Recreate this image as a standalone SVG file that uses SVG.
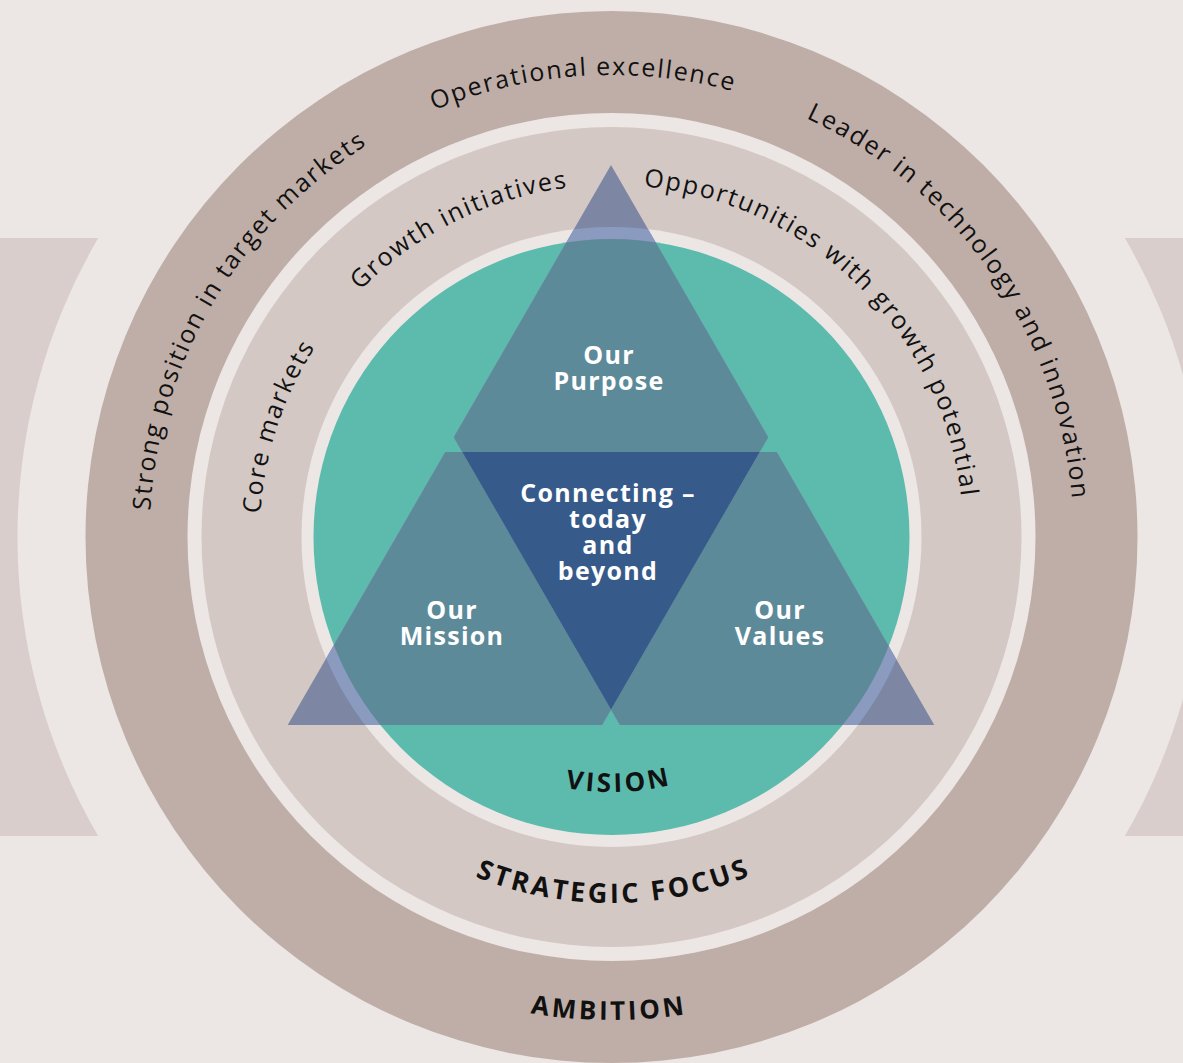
<svg xmlns="http://www.w3.org/2000/svg" xmlns:xlink="http://www.w3.org/1999/xlink" width="1183" height="1063" viewBox="0 0 1183 1063">
<style>
.ring{font-family:'Open Sans','Noto Sans','Liberation Sans',sans-serif;font-size:25px;font-weight:500;fill:#111111;letter-spacing:1.8px}
.cap{font-family:'Open Sans','Noto Sans','Liberation Sans',sans-serif;font-size:26px;font-weight:700;fill:#111111;letter-spacing:3px}
.lbl{font-family:'Open Sans','Noto Sans','Liberation Sans',sans-serif;font-size:25px;font-weight:700;fill:#ffffff;letter-spacing:1.3px;text-anchor:middle}
</style>
<defs>
<path id="arcOuter" d="M156.52,617.23 A462,462 0 1,1 1066.48,617.23"/>
<path id="arcInner" d="M264.85,598.12 A352,352 0 1,1 958.15,598.12"/>
<path id="arcVision" d="M356.5,537 A255,255 0 0,0 866.5,537"/>
<path id="arcStrat" d="M245.5,537 A366,366 0 0,0 977.5,537"/>
<path id="arcAmb" d="M128.5,537 A483,483 0 0,0 1094.5,537"/>
<clipPath id="clipGap"><circle cx="611.5" cy="537" r="310"/></clipPath>
<clipPath id="clipTeal"><circle cx="611.5" cy="537" r="298"/></clipPath>
<path id="triTop" d="M611,165 L768.2,437.25 L759.7,452 L462.3,452 L453.8,437.25 Z"/>
<path id="triLeft" d="M445.3,452 L462.3,452 L611,709.5 L602.05,725 L287.7,725 Z"/>
<path id="triRight" d="M776.7,452 L934.3,725 L619.95,725 L611,709.5 L759.7,452 Z"/>
</defs>

<rect x="0" y="0" width="1183" height="1063" fill="#ece7e4"/>

<g id="side-shapes" fill="#d9cecb">
<path d="M0,238 H98.2 A594,594 0 0,0 98.2,836 H0 Z"/>
<path d="M1183,238 H1124.8 A594,594 0 0,1 1124.8,836 H1183 Z"/>
</g>

<g id="ambition">
<circle cx="611.5" cy="537" r="526" fill="#bfaea7"/>
<circle cx="611.5" cy="537" r="424" fill="#ece7e4"/>
<text class="ring"><textPath xlink:href="#arcOuter" startOffset="107">Strong position in target markets</textPath></text>
<text class="ring"><textPath xlink:href="#arcOuter" startOffset="624.1">Operational excellence</textPath></text>
<text class="ring"><textPath xlink:href="#arcOuter" startOffset="1007.1">Leader in technology and innovation</textPath></text>
<text class="cap" text-anchor="middle"><textPath xlink:href="#arcAmb" startOffset="756">AMBITION</textPath></text>
</g>

<g id="strategic-focus">
<circle cx="611.5" cy="537" r="410" fill="#d3c8c4"/>
<circle cx="611.5" cy="537" r="310" fill="#ece7e4"/>
<text class="ring"><textPath xlink:href="#arcInner" startOffset="84.8">Core markets</textPath></text>
<text class="ring"><textPath xlink:href="#arcInner" startOffset="334.2">Growth initiatives</textPath></text>
<text class="ring"><textPath xlink:href="#arcInner" startOffset="646.3">Opportunities with growth potential</textPath></text>
<text class="cap" text-anchor="middle" style="font-size:27px"><textPath xlink:href="#arcStrat" startOffset="577">STRATEGIC FOCUS</textPath></text>
</g>

<g id="vision">
<circle cx="611.5" cy="537" r="298" fill="#5cbbad"/>
<text class="cap" text-anchor="middle"><textPath xlink:href="#arcVision" startOffset="408">VISION</textPath></text>
</g>

<g id="our-purpose">
<use xlink:href="#triTop" fill="#7d86a3"/>
<use xlink:href="#triTop" fill="#8b9abf" clip-path="url(#clipGap)"/>
<use xlink:href="#triTop" fill="#5d8a99" clip-path="url(#clipTeal)"/>
<text class="lbl" x="609" y="364">Our</text>
<text class="lbl" x="609" y="390">Purpose</text>
</g>

<g id="our-mission">
<use xlink:href="#triLeft" fill="#7d86a3"/>
<use xlink:href="#triLeft" fill="#8b9abf" clip-path="url(#clipGap)"/>
<use xlink:href="#triLeft" fill="#5d8a99" clip-path="url(#clipTeal)"/>
<text class="lbl" x="452" y="619">Our</text>
<text class="lbl" x="452" y="645">Mission</text>
</g>

<g id="our-values">
<use xlink:href="#triRight" fill="#7d86a3"/>
<use xlink:href="#triRight" fill="#8b9abf" clip-path="url(#clipGap)"/>
<use xlink:href="#triRight" fill="#5d8a99" clip-path="url(#clipTeal)"/>
<text class="lbl" x="780" y="619">Our</text>
<text class="lbl" x="780" y="645">Values</text>
</g>

<g id="connecting">
<path d="M462.3,452 L759.7,452 L611,709.5 Z" fill="#365a89"/>
<text class="lbl" x="608" y="502">Connecting –</text>
<text class="lbl" x="608" y="528">today</text>
<text class="lbl" x="608" y="554">and</text>
<text class="lbl" x="608" y="580">beyond</text>
</g>
</svg>
